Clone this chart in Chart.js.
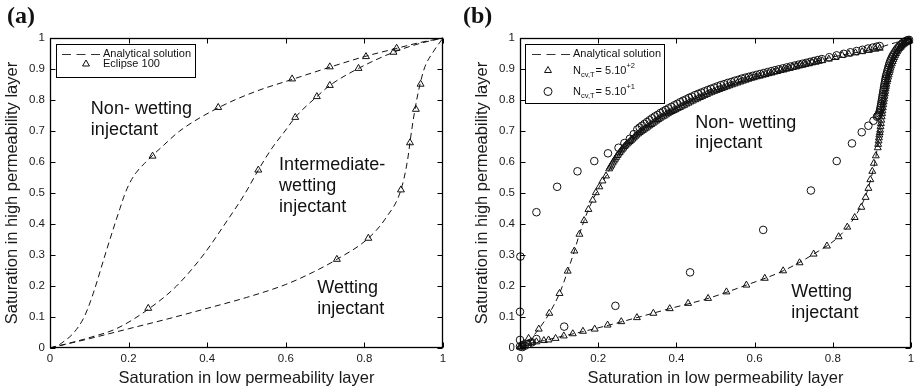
<!DOCTYPE html>
<html>
<head>
<meta charset="utf-8">
<script src="https://cdn.jsdelivr.net/npm/chart.js@4.4.1/dist/chart.umd.min.js"></script>
<style>
  html, body { margin: 0; padding: 0; background: #fff; }
  #wrap { position: relative; width: 916px; height: 391px; }
  canvas { position: absolute; top: 0; }
  #chartA { left: 0; }
  #chartB { left: 458px; }
</style>
</head>
<body>
<div id="wrap">
  <canvas id="chartA" width="458" height="391"></canvas>
  <canvas id="chartB" width="458" height="391"></canvas>
</div>
<script>
const xTitle = 'Saturation in low permeability layer';
const yTitle = 'Saturation in high permeability layer';
const xStep = 0.2;
const yStep = 0.1;

// ---- panel (a) ----
const aNonWettingLine = [[0,0],[0.02,0.008],[0.038,0.024],[0.059,0.047],[0.085,0.095],[0.097,0.13],[0.11,0.176],[0.144,0.316],[0.165,0.4],[0.178,0.45],[0.19,0.495],[0.203,0.533],[0.22,0.567],[0.24,0.595],[0.26,0.62],[0.29,0.655],[0.33,0.7],[0.43,0.776],[0.52,0.826],[0.62,0.868],[0.71,0.905],[0.8,0.94],[0.88,0.966],[0.94,0.985],[1,1]];
const aIntermediateLine = [[0,0],[0.05,0.016],[0.102,0.034],[0.17,0.063],[0.25,0.125],[0.322,0.2],[0.39,0.3],[0.445,0.4],[0.497,0.5],[0.53,0.574],[0.565,0.645],[0.598,0.7],[0.624,0.744],[0.679,0.811],[0.712,0.847],[0.785,0.902],[0.874,0.954],[0.94,0.982],[1,1]];
const aWettingLine = [[0,0],[0.05,0.015],[0.1,0.03],[0.2,0.062],[0.3,0.094],[0.4,0.128],[0.5,0.163],[0.6,0.205],[0.67,0.245],[0.73,0.286],[0.81,0.354],[0.855,0.42],[0.893,0.51],[0.909,0.6],[0.92,0.7],[0.933,0.8],[0.952,0.9],[0.975,0.955],[1,1]];
const aNonWettingEclipse = [[0.261,0.619],[0.428,0.776],[0.616,0.868],[0.712,0.907],[0.804,0.94],[0.882,0.967]];
const aIntermediateEclipse = [[0.25,0.128],[0.53,0.574],[0.624,0.744],[0.679,0.811],[0.712,0.847],[0.785,0.902],[0.874,0.954]];
const aWettingEclipse = [[0.73,0.286],[0.81,0.354],[0.893,0.51],[0.916,0.662],[0.931,0.77],[0.943,0.851]];

// ---- panel (b) ----
const bNonWettingLine = [[0,0],[0.02,0.02],[0.048,0.061],[0.075,0.112],[0.101,0.176],[0.122,0.248],[0.139,0.313],[0.152,0.367],[0.164,0.411],[0.175,0.447],[0.186,0.477],[0.203,0.52],[0.22,0.555],[0.242,0.605],[0.297,0.685],[0.382,0.76],[0.484,0.822],[0.603,0.874],[0.73,0.916],[0.815,0.943],[0.9,0.963],[0.96,0.985],[1,1]];
const bWettingLine = [[0,0],[0.021,0.013],[0.061,0.024],[0.112,0.039],[0.161,0.053],[0.225,0.073],[0.299,0.098],[0.383,0.127],[0.481,0.16],[0.579,0.203],[0.673,0.249],[0.751,0.303],[0.815,0.359],[0.856,0.422],[0.883,0.488],[0.897,0.544],[0.907,0.596],[0.917,0.671],[0.925,0.746],[0.933,0.822],[0.942,0.875],[0.95,0.918],[0.959,0.951],[0.972,0.972],[0.985,0.985],[1,1]];

// N = 5.10^2, triangles
const bTriNonWetting = [[0,0.004],[0.005,0.01],[0.01,0.015],[0.022,0.031],[0.048,0.061],[0.075,0.112],[0.101,0.176],[0.122,0.248],[0.139,0.313],[0.152,0.367],[0.164,0.411],[0.175,0.447],[0.186,0.477],[0.194,0.501],[0.203,0.52],[0.211,0.539],[0.22,0.555]];
const bTriNonWettingBand = [[0.228,0.578],[0.231,0.584],[0.234,0.590],[0.237,0.597],[0.240,0.603],[0.243,0.609],[0.246,0.615],[0.249,0.621],[0.252,0.626],[0.255,0.631],[0.258,0.636],[0.261,0.641],[0.264,0.645],[0.267,0.650],[0.270,0.654],[0.2735,0.658],[0.277,0.662],[0.2805,0.666],[0.284,0.670],[0.2875,0.674],[0.291,0.678],[0.2945,0.683],[0.298,0.687],[0.302,0.691],[0.306,0.695],[0.310,0.699],[0.314,0.702],[0.318,0.706],[0.322,0.709],[0.3265,0.713],[0.331,0.717],[0.3355,0.721],[0.340,0.725],[0.3445,0.729],[0.349,0.733],[0.3535,0.737],[0.358,0.741],[0.363,0.745],[0.368,0.748],[0.373,0.752],[0.378,0.756],[0.383,0.760],[0.388,0.763],[0.393,0.766],[0.398,0.769],[0.4035,0.773],[0.409,0.776],[0.4145,0.780],[0.420,0.783],[0.4255,0.787],[0.431,0.790],[0.4365,0.794],[0.442,0.797],[0.448,0.801],[0.454,0.804],[0.460,0.808],[0.466,0.811],[0.472,0.815],[0.478,0.818],[0.484,0.822],[0.490,0.825],[0.4965,0.828],[0.503,0.831],[0.5095,0.834],[0.516,0.837],[0.5225,0.840],[0.529,0.843],[0.5355,0.846],[0.542,0.849],[0.549,0.852],[0.556,0.855],[0.563,0.858],[0.570,0.861],[0.577,0.864],[0.584,0.867],[0.591,0.870],[0.598,0.872],[0.6055,0.875],[0.613,0.877],[0.6205,0.880],[0.628,0.882],[0.6355,0.885],[0.643,0.887],[0.6505,0.890],[0.658,0.892],[0.666,0.895],[0.674,0.897],[0.682,0.900],[0.690,0.902],[0.698,0.905],[0.706,0.907],[0.714,0.910],[0.722,0.912],[0.730,0.915],[0.739,0.917],[0.747,0.920],[0.756,0.922],[0.764,0.925],[0.773,0.927],[0.790,0.932],[0.807,0.937],[0.824,0.944],[0.841,0.948],[0.858,0.952],[0.875,0.956],[0.892,0.960],[0.909,0.964],[0.920,0.967]];
const bTriWetting = [[0,0.004],[0.01,0.009],[0.021,0.015],[0.031,0.018],[0.042,0.02],[0.061,0.024],[0.073,0.026],[0.091,0.031],[0.112,0.039],[0.135,0.046],[0.161,0.054],[0.191,0.061],[0.224,0.074],[0.259,0.085],[0.299,0.098],[0.341,0.112],[0.383,0.127],[0.43,0.144],[0.481,0.16],[0.528,0.181],[0.579,0.203],[0.626,0.225],[0.673,0.249],[0.715,0.275],[0.751,0.303],[0.785,0.329],[0.815,0.359],[0.837,0.39],[0.856,0.421],[0.873,0.454],[0.884,0.486],[0.891,0.515],[0.896,0.543],[0.901,0.57],[0.905,0.596],[0.91,0.62],[0.915,0.646]];
const bTriWettingTop = [[0.916,0.657],[0.917,0.668],[0.918,0.678],[0.919,0.687],[0.92,0.695],[0.921,0.703],[0.922,0.714],[0.923,0.724],[0.924,0.735],[0.925,0.746],[0.926,0.756],[0.927,0.765],[0.928,0.775],[0.929,0.785],[0.930,0.794],[0.931,0.803],[0.932,0.812],[0.933,0.82],[0.934,0.828],[0.935,0.836],[0.936,0.844],[0.937,0.851],[0.9385,0.859],[0.94,0.866],[0.9415,0.874],[0.943,0.881],[0.9445,0.889],[0.946,0.896],[0.9475,0.903],[0.949,0.91],[0.951,0.917],[0.953,0.924],[0.955,0.931],[0.957,0.937],[0.9595,0.944],[0.962,0.95],[0.9645,0.956],[0.967,0.961],[0.97,0.966],[0.973,0.97],[0.976,0.974],[0.979,0.978],[0.982,0.981],[0.985,0.984],[0.988,0.986],[0.991,0.988],[0.994,0.99],[0.996,0.991]];

// N = 5.10^1, circles
const bCircNonWetting = [[0,0.005],[0,0.026],[0,0.117],[0.001,0.295],[0.042,0.438],[0.095,0.52],[0.147,0.57],[0.19,0.603],[0.225,0.628],[0.252,0.646],[0.267,0.661],[0.281,0.675],[0.291,0.69]];
const bCircNonWettingBand = [[0.30,0.705],[0.306,0.711],[0.312,0.717],[0.3185,0.723],[0.325,0.729],[0.3315,0.735],[0.338,0.741],[0.345,0.747],[0.352,0.752],[0.359,0.758],[0.366,0.763],[0.373,0.768],[0.38,0.773],[0.3875,0.778],[0.395,0.783],[0.4025,0.788],[0.41,0.793],[0.4175,0.798],[0.425,0.802],[0.4325,0.807],[0.44,0.811],[0.448,0.816],[0.456,0.82],[0.464,0.824],[0.472,0.828],[0.48,0.832],[0.488,0.836],[0.4965,0.84],[0.505,0.844],[0.5135,0.848],[0.522,0.851],[0.531,0.855],[0.54,0.858],[0.549,0.862],[0.558,0.865],[0.567,0.869],[0.576,0.872],[0.5855,0.875],[0.595,0.878],[0.6045,0.881],[0.614,0.884],[0.6235,0.887],[0.633,0.89],[0.6425,0.893],[0.652,0.896],[0.662,0.899],[0.672,0.902],[0.682,0.905],[0.692,0.908],[0.702,0.911],[0.712,0.914],[0.722,0.917],[0.732,0.92],[0.742,0.923],[0.752,0.926],[0.762,0.929],[0.772,0.932],[0.791,0.938],[0.81,0.944],[0.828,0.949],[0.845,0.954],[0.861,0.958],[0.876,0.962],[0.89,0.966],[0.902,0.969],[0.912,0.972],[0.92,0.974]];
const bCircWetting = [[0.006,0.003],[0.012,0.007],[0.02,0.012],[0.03,0.018],[0.042,0.029],[0.113,0.069],[0.244,0.136],[0.435,0.244],[0.622,0.381],[0.744,0.508],[0.81,0.603],[0.849,0.66],[0.874,0.696],[0.891,0.717],[0.904,0.733],[0.913,0.746]];
const bCircWettingTop = [[0.915,0.749],[0.917,0.752],[0.9185,0.757],[0.92,0.762],[0.921,0.768],[0.922,0.774],[0.923,0.781],[0.924,0.788],[0.925,0.796],[0.926,0.803],[0.927,0.811],[0.928,0.818],[0.929,0.826],[0.93,0.833],[0.931,0.841],[0.932,0.848],[0.933,0.855],[0.934,0.862],[0.935,0.869],[0.936,0.876],[0.9375,0.883],[0.939,0.89],[0.9405,0.897],[0.942,0.904],[0.9435,0.911],[0.945,0.918],[0.947,0.925],[0.949,0.931],[0.9515,0.938],[0.954,0.944],[0.957,0.95],[0.96,0.956],[0.963,0.962],[0.966,0.967],[0.9695,0.972],[0.973,0.977],[0.9765,0.981],[0.98,0.985],[0.984,0.988],[0.988,0.991],[0.992,0.993],[0.995,0.994]];

// text labels, anchored in data units (left, baseline)
const aNotes = [
  ['Non- wetting', 0.104, 0.755], ['injectant', 0.104, 0.687],
  ['Intermediate-', 0.583, 0.574], ['wetting', 0.583, 0.506], ['injectant', 0.583, 0.439],
  ['Wetting', 0.68, 0.176], ['injectant', 0.68, 0.11]
];
const bNotes = [
  ['Non- wetting', 0.448, 0.709], ['injectant', 0.448, 0.645],
  ['Wetting', 0.694, 0.164], ['injectant', 0.694, 0.096]
];

const FONT = '"Liberation Sans", Arial, Helvetica, sans-serif';
Chart.defaults.font.family = FONT;
Chart.defaults.color = '#1a1a1a';

const pts = arr => arr.map(p => ({ x: p[0], y: p[1] }));

function lineSet(arr) {
  return {
    data: pts(arr), showLine: true, pointRadius: 0, pointHoverRadius: 0,
    borderColor: '#111', borderWidth: 1, borderDash: [6, 4],
    cubicInterpolationMode: 'monotone', fill: false, clip: false
  };
}

function markerSet(arr, style) {
  return {
    data: pts(arr), showLine: false, pointStyle: style,
    pointRadius: style === 'circle' ? 3.8 : 4, pointHoverRadius: 4,
    borderColor: '#111', backgroundColor: 'rgba(0,0,0,0)',
    pointBorderColor: '#111', pointBackgroundColor: 'rgba(0,0,0,0)',
    pointBorderWidth: 1, borderWidth: 1, clip: false
  };
}

function drawMixed(ctx, parts, x, y) {
  parts.forEach(p => {
    let size = 11, dy = 0;
    if (p.sub) { size = 7.5; dy = 4; }
    if (p.sup) { size = 7.5; dy = -5; }
    ctx.font = size + 'px ' + FONT;
    ctx.fillText(p.t, x, y + dy);
    x += ctx.measureText(p.t).width + (p.sub ? 1 : 0);
  });
}

function drawLegend(ctx, lg) {
  ctx.fillStyle = '#fff';
  ctx.fillRect(lg.x, lg.y, lg.w, lg.h);
  ctx.strokeStyle = '#000';
  ctx.lineWidth = 1;
  ctx.strokeRect(lg.x + 0.5, lg.y + 0.5, lg.w, lg.h);
  ctx.textBaseline = 'middle';
  ctx.textAlign = 'left';
  lg.rows.forEach(r => {
    if (r.kind === 'line') {
      ctx.save();
      ctx.strokeStyle = '#333';
      ctx.setLineDash([9, 5.5]);
      ctx.beginPath();
      ctx.moveTo(lg.x0, r.y + 0.5);
      ctx.lineTo(lg.x1, r.y + 0.5);
      ctx.stroke();
      ctx.restore();
    } else {
      ctx.save();
      ctx.strokeStyle = '#111';
      ctx.fillStyle = 'rgba(0,0,0,0)';
      Chart.helpers.drawPoint(ctx, { pointStyle: r.kind, radius: 4, borderWidth: 1, rotation: 0 }, lg.mx, r.y);
      ctx.restore();
    }
    ctx.fillStyle = '#111';
    drawMixed(ctx, r.parts, lg.tx, r.y);
  });
}

function overlay(panel, notes, legend) {
  return {
    id: 'overlay',
    afterDraw(chart) {
      const { ctx, chartArea: a, scales: { x, y } } = chart;
      ctx.save();
      ctx.strokeStyle = '#000';
      ctx.lineWidth = 1;
      const L = Math.round(a.left) + 0.5, R = Math.round(a.right) - 0.5;
      const T = Math.round(a.top) + 0.5, B = Math.round(a.bottom) - 0.5;
      ctx.beginPath();
      x.ticks.forEach(t => {
        const px = Math.round(x.getPixelForValue(t.value)) + 0.5;
        ctx.moveTo(px, B); ctx.lineTo(px, B - 5);
        ctx.moveTo(px, T); ctx.lineTo(px, T + 5);
      });
      y.ticks.forEach(t => {
        const py = Math.round(y.getPixelForValue(t.value)) + 0.5;
        ctx.moveTo(L, py); ctx.lineTo(L + 5, py);
        ctx.moveTo(R, py); ctx.lineTo(R - 5, py);
      });
      ctx.stroke();
      ctx.lineWidth = 1.3;
      ctx.strokeRect(L, T, R - L, B - T);

      ctx.fillStyle = '#111';
      ctx.textAlign = 'left';
      ctx.textBaseline = 'alphabetic';
      ctx.font = '18px ' + FONT;
      notes.forEach(n => ctx.fillText(n[0], x.getPixelForValue(n[1]), y.getPixelForValue(n[2])));

      ctx.font = 'bold 24px "Liberation Serif", "Times New Roman", serif';
      ctx.fillText(panel.text, panel.x, panel.y);

      drawLegend(ctx, legend);
      ctx.restore();
    }
  };
}

const tickText = v => String(Math.round(v * 10) / 10);

function makeOptions(pad) {
  return {
    responsive: false, animation: false, events: [],
    layout: { padding: pad },
    plugins: { legend: { display: false }, tooltip: { enabled: false } },
    scales: {
      x: {
        type: 'linear', min: 0, max: 1,
        ticks: { stepSize: xStep, padding: 4, font: { size: 11.5 }, maxRotation: 0, callback: tickText },
        grid: { display: false, drawTicks: false }, border: { display: false },
        title: { display: true, text: xTitle, font: { size: 16.5 }, padding: { top: 0, bottom: 3 } },
        afterFit: s => { s.height = 43; s.paddingLeft = 0; s.paddingRight = 0; }
      },
      y: {
        type: 'linear', min: 0, max: 1,
        ticks: { stepSize: yStep, padding: 5, font: { size: 11.5 }, callback: tickText },
        grid: { display: false, drawTicks: false }, border: { display: false },
        title: { display: true, text: yTitle, font: { size: 16.5 }, padding: { top: 3, bottom: 0 } },
        afterFit: s => { s.width = 50; s.paddingTop = 0; s.paddingBottom = 0; }
      }
    }
  };
}

new Chart(document.getElementById('chartA'), {
  type: 'scatter',
  data: {
    datasets: [
      markerSet(aNonWettingEclipse, 'triangle'),
      markerSet(aIntermediateEclipse, 'triangle'),
      markerSet(aWettingEclipse, 'triangle'),
      lineSet(aNonWettingLine),
      lineSet(aIntermediateLine),
      lineSet(aWettingLine)
    ]
  },
  options: makeOptions({ left: 0, top: 38, right: 15, bottom: 0 }),
  plugins: [overlay({ text: '(a)', x: 7, y: 23 }, aNotes, {
    x: 56, y: 44, w: 139, h: 33, x0: 62, x1: 100, mx: 86, tx: 103,
    rows: [
      { kind: 'line', y: 54, parts: [{ t: 'Analytical solution' }] },
      { kind: 'triangle', y: 64, parts: [{ t: 'Eclipse 100' }] }
    ]
  })]
});

new Chart(document.getElementById('chartB'), {
  type: 'scatter',
  data: {
    datasets: [
      markerSet(bCircNonWetting, 'circle'),
      markerSet(bCircNonWettingBand, 'circle'),
      markerSet(bCircWetting, 'circle'),
      markerSet(bCircWettingTop, 'circle'),
      markerSet(bTriNonWetting, 'triangle'),
      markerSet(bTriNonWettingBand, 'triangle'),
      markerSet(bTriWetting, 'triangle'),
      markerSet(bTriWettingTop, 'triangle'),
      lineSet(bNonWettingLine),
      lineSet(bWettingLine)
    ]
  },
  options: makeOptions({ left: 12, top: 38, right: 4, bottom: 0 }),
  plugins: [overlay({ text: '(b)', x: 5, y: 23 }, bNotes, {
    x: 67, y: 44, w: 139, h: 59, x0: 74, x1: 112, mx: 90, tx: 115,
    rows: [
      { kind: 'line', y: 54, parts: [{ t: 'Analytical solution' }] },
      { kind: 'triangle', y: 70.5, parts: [{ t: 'N' }, { t: 'cv,T', sub: true }, { t: '= 5.10' }, { t: '+2', sup: true }] },
      { kind: 'circle', y: 91.5, parts: [{ t: 'N' }, { t: 'cv,T', sub: true }, { t: '= 5.10' }, { t: '+1', sup: true }] }
    ]
  })]
});
</script>
</body>
</html>
